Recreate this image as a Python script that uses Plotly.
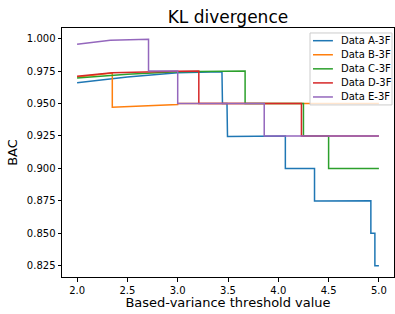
import plotly.graph_objects as go

# Data (threshold, BAC) for each series
names = ["Data A-3F", "Data B-3F", "Data C-3F", "Data D-3F", "Data E-3F"]
colors = ["#1f77b4", "#ff7f0e", "#2ca02c", "#d62728", "#9467bd"]

a_x = [2.0, 2.5, 3.0, 3.44, 3.445, 3.49, 3.495, 4.07, 4.07, 4.36, 4.36, 4.92, 4.92, 4.96, 4.96, 5.0]
a_y = [0.9660, 0.9705, 0.9738, 0.9744, 0.950, 0.950, 0.9245, 0.925, 0.900, 0.900, 0.8748, 0.875, 0.850, 0.850, 0.825, 0.825]

b_x = [2.0, 2.35, 2.35, 2.7, 3.0, 3.0, 5.0]
b_y = [0.9705, 0.9735, 0.9471, 0.9485, 0.9493, 0.950, 0.950]

c_x = [2.0, 2.5, 3.0, 3.67, 3.67, 4.25, 4.25, 4.5, 4.5, 5.0]
c_y = [0.9697, 0.9725, 0.9745, 0.975, 0.950, 0.950, 0.925, 0.925, 0.900, 0.900]

d_x = [2.0, 2.35, 3.0, 3.21, 3.21, 4.23, 4.23, 5.0]
d_y = [0.9710, 0.9738, 0.9748, 0.9751, 0.950, 0.950, 0.925, 0.925]

e_x = [2.0, 2.15, 2.33, 2.71, 2.71, 3.0, 3.0, 3.86, 3.86, 5.0]
e_y = [0.9956, 0.9972, 0.9987, 0.9995, 0.975, 0.975, 0.950, 0.950, 0.925, 0.925]

xs = [a_x, b_x, c_x, d_x, e_x]
ys = [a_y, b_y, c_y, d_y, e_y]

x_ticks = [2.0, 2.5, 3.0, 3.5, 4.0, 4.5, 5.0]
y_ticks = [0.825, 0.850, 0.875, 0.900, 0.925, 0.950, 0.975, 1.000]

fig = go.Figure()
for n, c, x, y in zip(names, colors, xs, ys):
    fig.add_trace(go.Scatter(x=x, y=y, mode="lines", name=n, showlegend=False,
                             line=dict(color=c, width=1.5)))

font = "DejaVu Sans, Arial, sans-serif"

# Compact matplotlib-style legend box (paper coordinates)
leg_x0, leg_x1 = 0.747, 0.994
leg_y0, leg_y1 = 0.691, 0.980
fig.add_shape(type="rect", xref="paper", yref="paper",
              x0=leg_x0, x1=leg_x1, y0=leg_y0, y1=leg_y1, layer="above",
              fillcolor="rgba(255,255,255,0.8)", line=dict(color="#cccccc", width=1))
row_top, row_step = 0.949, 0.0565
for i, (n, c) in enumerate(zip(names, colors)):
    yy = row_top - i * row_step
    fig.add_shape(type="line", xref="paper", yref="paper",
                  x0=0.756, x1=0.816, y0=yy, y1=yy, layer="above",
                  line=dict(color=c, width=1.5))
    fig.add_annotation(xref="paper", yref="paper", x=0.834, y=yy, text=n,
                       showarrow=False, xanchor="left", yanchor="middle",
                       font=dict(family=font, size=10, color="#000000"))

axis_common = dict(showgrid=False, zeroline=False, showline=True, mirror=True,
                   linecolor="#000000", linewidth=1, ticks="outside", ticklen=3.5,
                   tickwidth=1, tickcolor="#000000",
                   tickfont=dict(family=font, size=10, color="#000000"))

fig.update_layout(
    width=395, height=314,
    margin=dict(l=62, r=1, t=28, b=37),
    paper_bgcolor="white", plot_bgcolor="white",
    font=dict(family=font, color="#000000"),
    title=dict(text="KL divergence", x=0.577, xanchor="center", y=0.946, yanchor="middle",
               font=dict(family=font, size=17, color="#000000")),
    xaxis=dict(range=[1.85, 5.15], tickvals=x_ticks,
               ticktext=[f"{v:.1f}" for v in x_ticks],
               title=dict(text="Based-variance threshold value", standoff=3,
                          font=dict(family=font, size=13)),
               **axis_common),
    yaxis=dict(range=[0.8163, 1.0082], tickvals=y_ticks,
               ticktext=[f"{v:.3f}" for v in y_ticks],
               title=dict(text="BAC", standoff=6, font=dict(family=font, size=13)),
               **axis_common),
    showlegend=False,
)

fig.write_html("out.html", config={"displayModeBar": False},
               post_script="document.body.style.margin='0';document.body.style.padding='0';")
